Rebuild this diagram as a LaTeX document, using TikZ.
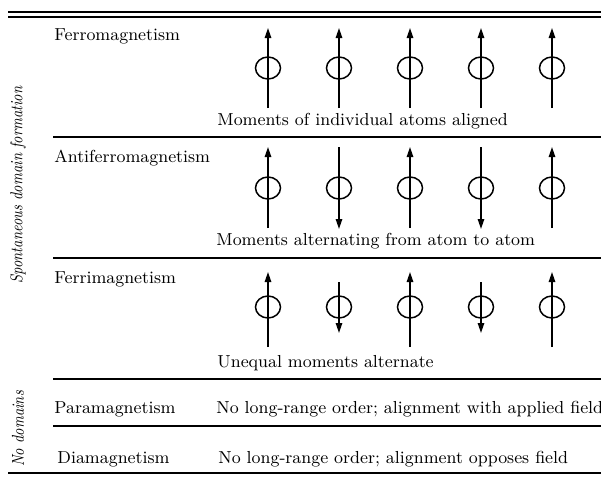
\documentclass[tikz,border=0pt]{standalone}
\usepackage{tikz}
\usetikzlibrary{arrows.meta}

\newcommand{\rowfont}{\fontsize{8.7}{10}\selectfont}
\newcommand{\condensed}[1]{\scalebox{0.82}[1]{#1}}

\tikzset{
  kind/.style={anchor=base west,inner sep=0pt,font=\rowfont},
  note/.style={anchor=base west,inner sep=0pt,font=\rowfont},
  side/.style={rotate=90,inner sep=0pt,font=\fontsize{8.6}{10}\selectfont\itshape},
  rule/.style={line width=1pt},
  moment/.style={line width=0.8pt,-{Triangle[length=5pt,width=3.2pt]}},
  atom/.style={line width=0.75pt}
}

\begin{document}
\begin{tikzpicture}[x=0.5pt,y=-0.5pt]
\useasboundingbox (0,0) rectangle (601,477);
% rules
\draw[line width=0.8pt] (8,12) -- (601,12);
\draw[line width=0.8pt] (8,17) -- (601,17);
\draw[rule] (53,137) -- (601,137);
\draw[rule] (53,258) -- (601,258);
\draw[rule] (53,379) -- (601,379);
\draw[rule] (53,426) -- (601,426);
\draw[rule] (8,473) -- (601,473);
% side labels
\node[side] (spont) at (18,185) {\condensed{Spontaneous domain formation}};
\node[side] (nodom) at (18,429) {\condensed{No domains}};
% row names
\node[kind] (ferro) at (54,40) {Ferromagnetism};
\node[kind] (anti) at (54,162) {Antiferromagnetism};
\node[kind] (ferri) at (54,283) {Ferrimagnetism};
\node[kind] (para) at (54,413) {Paramagnetism};
\node[kind] (dia) at (57,463) {Diamagnetism};
% notes
\node[note] (ferronote) at (217,125) {Moments of individual atoms aligned};
\node[note] (antinote) at (216,245) {Moments alternating from atom to atom};
\node[note] (ferrinote) at (217,367) {Unequal moments alternate};
\node[note] (paranote) at (216,413) {No long-range order; alignment with applied field};
\node[note] (dianote) at (218,463) {No long-range order; alignment opposes field};
% ferromagnetism
\foreach \x in {268,339,410,481,552} {
  \draw[atom] (\x,68) ellipse (12.5 and 11);
  \draw[moment] (\x,108) -- (\x,28);
}
% antiferromagnetism
\foreach \x in {268,410,552} {
  \draw[atom] (\x,188) ellipse (12.5 and 11);
  \draw[moment] (\x,228) -- (\x,147);
}
\foreach \x in {339,481} {
  \draw[atom] (\x,188) ellipse (12.5 and 11);
  \draw[moment] (\x,147) -- (\x,229);
}
% ferrimagnetism
\foreach \x in {268,410,552} {
  \draw[atom] (\x,307) ellipse (12.5 and 11);
  \draw[moment] (\x,347) -- (\x,272);
}
\foreach \x in {339,481} {
  \draw[atom] (\x,307) ellipse (12.5 and 11);
  \draw[moment] (\x,282) -- (\x,333);
}
\end{tikzpicture}
\end{document}
